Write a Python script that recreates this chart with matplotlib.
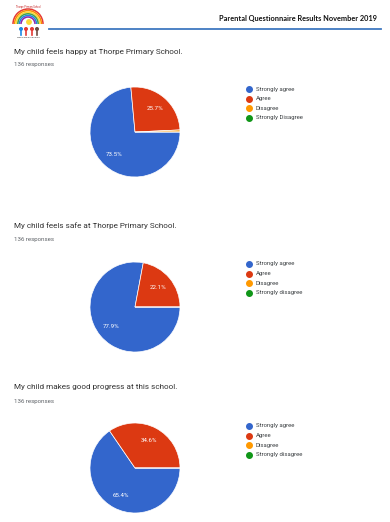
import matplotlib.pyplot as plt
from matplotlib.lines import Line2D
from matplotlib.patches import Arc, Circle

plt.rcParams['font.family'] = ['Roboto', 'DejaVu Sans']

header = 'Parental Questionnaire Results November 2019'
questions = ['My child feels happy at Thorpe Primary School.',
             'My child feels safe at Thorpe Primary School.',
             'My child makes good progress at this school.']
responses = ['136 responses', '136 responses', '136 responses']
labels_q1 = ['Strongly agree', 'Agree', 'Disagree', 'Strongly Disagree']
labels_q23 = ['Strongly agree', 'Agree', 'Disagree', 'Strongly disagree']
happy = [100, 35, 1, 0]
safe = [106, 30, 0, 0]
progress = [89, 47, 0, 0]
colors = ['#3366cc', '#dc3912', '#ff9900', '#109618']

W, H = 390, 522
fig = plt.figure(figsize=(W / 100, H / 100), dpi=100)
fig.patch.set_facecolor('white')


def fx(x):
    return x / W


def fy(y):
    return 1 - y / H


# header
fig.text(fx(377), fy(18), header, ha='right', va='center', fontsize=5.3,
         fontweight='bold', family=['Lato', 'DejaVu Sans'], color='#111111')
fig.add_artist(Line2D([fx(49), fx(381)], [fy(29), fy(29)], color='#3f78c0', lw=1.3))

# small logo
lax = fig.add_axes([fx(8), fy(38), fx(42), 36 / H])
lax.set_xlim(0, 42)
lax.set_ylim(0, 36)
lax.axis('off')
for i, c in enumerate(['#e53935', '#fb8c00', '#fdd835', '#43a047', '#1e88e5', '#8e24aa']):
    r = 15 - i * 1.6
    lax.add_patch(Arc((20, 14), 2 * r, 2 * r, theta1=0, theta2=180, color=c, lw=1.1))
lax.add_patch(Circle((21, 16), 2.2, color='#fdd835'))
for x, c in [(13, '#1e88e5'), (18, '#e53935'), (24, '#e53935'), (29, '#6d4c41')]:
    lax.add_patch(Circle((x, 9), 1.3, color=c))
    lax.add_artist(Line2D([x, x], [3, 8], color=c, lw=1.2))
lax.text(20, 0.5, 'Where we all can shine', ha='center', va='bottom', fontsize=1.6, color='#333333')
lax.text(20, 31, 'Thorpe Primary School', ha='center', va='center', fontsize=1.8, color='#c62828')

sections = [
    (questions[0], responses[0], happy, labels_q1, 52, 64.5, 132, 89),
    (questions[1], responses[1], safe, labels_q23, 226, 240, 307, 264),
    (questions[2], responses[2], progress, labels_q23, 387, 402, 468, 426),
]

R = 45
for title, resp, vals, labs, ty, ry, cy, ly in sections:
    fig.text(fx(14), fy(ty), title, ha='left', va='center', fontsize=5.9, color='#333333')
    fig.text(fx(14), fy(ry), resp, ha='left', va='center', fontsize=4.45, color='#5f6368')

    ax = fig.add_axes([fx(135 - R), fy(cy + R), fx(2 * R), 2 * R / H])

    def fmt(p):
        return f'{p:.1f}%' if p >= 5 else ''

    wedges, texts, autotexts = ax.pie(
        vals, colors=colors, startangle=0, counterclock=False, radius=1,
        autopct=fmt, pctdistance=0.68,
        wedgeprops=dict(edgecolor='white', linewidth=0.5),
        textprops=dict(color='white', fontsize=4.4))
    ax.set_xlim(-1, 1)
    ax.set_ylim(-1, 1)

    for i, (c, lab) in enumerate(zip(colors, labs)):
        yy = ly + i * 9.6
        fig.add_artist(Line2D([fx(249)], [fy(yy)], marker='o', ls='', markersize=4.0,
                              markerfacecolor=c, markeredgecolor=c))
        fig.text(fx(255.5), fy(yy), lab, ha='left', va='center', fontsize=4.3, color='#3c4043')

fig.savefig('out.png', dpi=100)
